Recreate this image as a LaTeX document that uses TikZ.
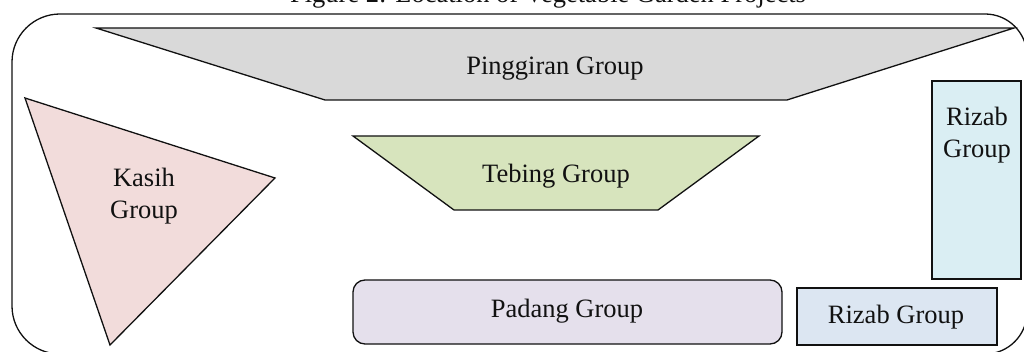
\documentclass[tikz,border=0pt]{standalone}
\usepackage{fontspec}
\setmainfont{Liberation Serif}
\definecolor{pingfill}{HTML}{D9D9D9}
\definecolor{kasihfill}{HTML}{F2DCDB}
\definecolor{tebingfill}{HTML}{D7E4BD}
\definecolor{rizabvfill}{HTML}{DAEEF3}
\definecolor{rizabhfill}{HTML}{DCE6F2}
\definecolor{padangfill}{HTML}{E5E0EC}
\definecolor{inkline}{HTML}{111111}
\tikzset{
  frame/.style={draw=inkline, line width=1.3pt},
  plot/.style={draw=inkline, line width=1.3pt, line join=miter},
  lbl/.style={font=\fontsize{26.5}{31.5}\selectfont, align=center, inner sep=0pt, text=inkline},
}
\begin{document}
\begin{tikzpicture}[x=1pt,y=-1pt]
\useasboundingbox (0,0) rectangle (1024,352);
\clip (0,0) rectangle (1024,352);

% caption
\node[lbl, anchor=base] (title) at (548,3) {Figure 2: Location of Vegetable Garden Projects};

% site boundary
\draw[frame] (60,14) -- (985,14) arc[start angle=270, end angle=360, radius=42]
  -- (1027,312) arc[start angle=0, end angle=90, radius=42]
  -- (60,354) arc[start angle=90, end angle=180, radius=48]
  -- (12,62) arc[start angle=180, end angle=270, radius=48] -- cycle;

% garden plots
\draw[plot, fill=pingfill] (96,28) -- (1014,28) -- (787,100) -- (325,100) -- cycle;
\draw[plot, fill=kasihfill] (25,98) -- (275,178) -- (110,345) -- cycle;
\draw[plot, fill=tebingfill] (353,136) -- (759,136) -- (658,210) -- (454,210) -- cycle;
\draw[plot, fill=rizabvfill] (932,81) rectangle (1021,279);
\draw[plot, fill=padangfill, rounded corners=12pt] (353,280) rectangle (782,344);
\draw[plot, fill=rizabhfill] (797,288) rectangle (997,345);

% plot names
\node[lbl, anchor=base] (pinggiran) at (555,75) {Pinggiran Group};
\node[lbl, anchor=north] (kasih) at (144,168) {Kasih\\Group};
\node[lbl, anchor=base] (tebing) at (556,183) {Tebing Group};
\node[lbl, anchor=north] (rizabv) at (977,107) {Rizab\\Group};
\node[lbl, anchor=base] (padang) at (567,317) {Padang Group};
\node[lbl, anchor=base] (rizabh) at (896,323) {Rizab Group};
\end{tikzpicture}
\end{document}
